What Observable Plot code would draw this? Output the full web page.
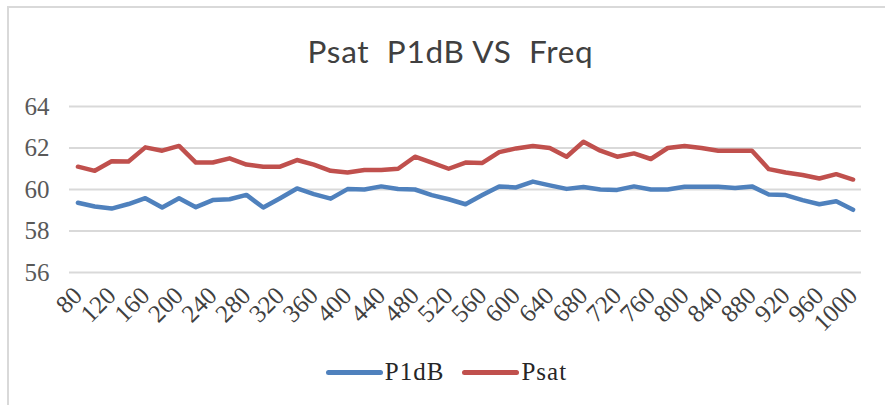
<!DOCTYPE html>
<html>
<head>
<meta charset="utf-8">
<script src="https://cdn.jsdelivr.net/npm/d3@7"></script>
<script src="https://cdn.jsdelivr.net/npm/@observablehq/plot@0.6"></script>
<style>
  html, body { margin: 0; padding: 0; background: #fff; }
  #wrap { position: relative; width: 885px; height: 405px; overflow: hidden; background: #fff; }
  #frame { position: absolute; left: 7px; top: 6px; width: 950px; height: 450px;
           border-left: 2px solid #d9d9d9; border-top: 2px solid #d9d9d9; pointer-events: none; }
  #title { height: 85px; box-sizing: border-box; padding-top: 34px; text-align: center;
           font-family: Lato, "Open Sans", sans-serif; font-size: 31.5px; line-height: 34px;
           letter-spacing: 0.7px; color: #404040; white-space: pre; padding-left: 16px; }
  #chart svg { display: block; }
  #chart svg text { font-family: "Liberation Serif", serif !important; }
  #chart svg g[aria-label="y-axis tick label"] text { font-size: 25px !important; }
  #chart svg g[aria-label="x-axis tick label"] text { font-size: 25px !important; }
  #legend { height: 65px; box-sizing: border-box; padding-top: 17px; display: flex; justify-content: center;
            align-items: flex-start; font-family: "Liberation Serif", serif; font-size: 25px;
            line-height: 30px; letter-spacing: 1px; color: #262626; padding-left: 8px; }
  .item { display: flex; align-items: center; margin: 0 9px; height: 30px; }
  .sw { width: 57px; height: 5px; border-radius: 3px; margin-right: 2px; }
</style>
</head>
<body>
<div id="wrap">
  <div id="title"></div>
  <div id="chart"></div>
  <div id="legend"></div>
  <div id="frame"></div>
</div>
<script>
const titleText = "Psat  P1dB VS  Freq";
const freqs = [80,100,120,140,160,180,200,220,240,260,280,300,320,340,360,380,400,420,440,460,
  480,500,520,540,560,580,600,620,640,660,680,700,720,740,760,780,800,820,840,860,880,900,
  920,940,960,980,1000];
const xTickLabels = [80,120,160,200,240,280,320,360,400,440,480,520,560,600,640,680,720,760,
  800,840,880,920,960,1000];
const yTicks = [56,58,60,62,64];
const seriesNames = ["P1dB","Psat"];
const seriesColors = ["#4f81bd","#c0504d"];
const p1dB = [59.36,59.18,59.08,59.30,59.58,59.13,59.58,59.15,59.49,59.53,59.74,59.13,59.58,60.05,
  59.78,59.56,60.02,60.00,60.15,60.02,60.00,59.73,59.53,59.29,59.73,60.15,60.10,60.38,60.20,60.03,
  60.12,60.00,59.98,60.15,60.00,60.00,60.13,60.13,60.13,60.07,60.15,59.76,59.73,59.49,59.29,59.43,59.02];
const psat = [61.10,60.90,61.36,61.35,62.03,61.87,62.10,61.30,61.30,61.50,61.20,61.10,61.10,61.42,
  61.20,60.90,60.82,60.94,60.94,61.00,61.58,61.30,61.00,61.30,61.28,61.80,61.98,62.10,62.00,61.58,
  62.30,61.87,61.58,61.74,61.47,62.00,62.10,62.00,61.87,61.87,61.87,60.98,60.82,60.70,60.53,60.74,60.48];

const rows = [];
freqs.forEach((f, i) => {
  rows.push({freq: f, value: p1dB[i], series: seriesNames[0]});
  rows.push({freq: f, value: psat[i], series: seriesNames[1]});
});

document.getElementById("title").textContent = titleText;

const chart = Plot.plot({
  width: 885,
  height: 255,
  marginLeft: 69,
  marginRight: 24,
  marginTop: 21,
  marginBottom: 68,
  style: {color: "#595959", background: "transparent"},
  x: {type: "point", domain: freqs, padding: 0.5},
  y: {domain: [56, 64]},
  color: {domain: seriesNames, range: seriesColors},
  marks: [
    Plot.gridY(yTicks, {stroke: "#d9d9d9", strokeOpacity: 1, strokeWidth: 2}),
    Plot.axisY(yTicks, {tickSize: 0, tickPadding: 20, label: null, fill: "#595959"}),
    Plot.axisX(xTickLabels, {tickSize: 0, tickPadding: 19, tickRotate: -45, label: null,
      fill: "#404040", tickFormat: d => String(d)}),
    Plot.line(rows, {x: "freq", y: "value", z: "series", stroke: "series", strokeWidth: 4.5,
      strokeLinejoin: "round", strokeLinecap: "round"})
  ]
});
document.getElementById("chart").appendChild(chart);

const legend = document.getElementById("legend");
seriesNames.forEach((name, i) => {
  const item = document.createElement("div");
  item.className = "item";
  const sw = document.createElement("div");
  sw.className = "sw";
  sw.style.background = seriesColors[i];
  const t = document.createElement("span");
  t.textContent = name;
  item.appendChild(sw);
  item.appendChild(t);
  legend.appendChild(item);
});
</script>
</body>
</html>
